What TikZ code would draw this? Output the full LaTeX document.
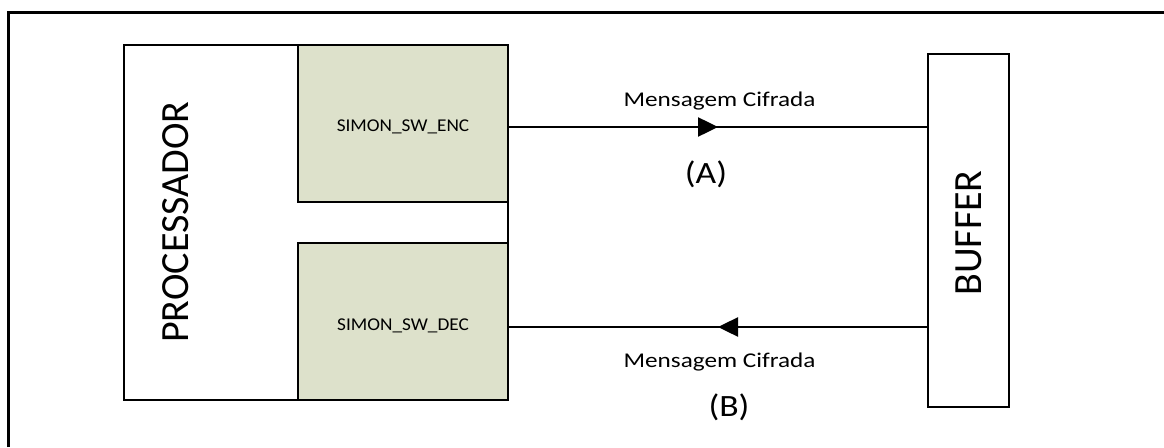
\documentclass[tikz,border=0pt]{standalone}
\usepackage{fontspec}
\setmainfont{Carlito}
\usetikzlibrary{arrows.meta,decorations.markings}
\definecolor{blockgreen}{RGB}{221,225,203}
\begin{document}
\begin{tikzpicture}[x=1pt,y=-1pt,
  box/.style={draw=black,line width=2.8pt,rectangle,inner sep=0pt},
  unit/.style={box,fill=blockgreen,minimum width=210pt,minimum height=157pt},
  unittext/.style={anchor=base,font=\fontsize{18}{22}\selectfont,xscale=1.07},
  bigtext/.style={font=\fontsize{40}{48}\selectfont,rotate=90},
  msg/.style={anchor=base,font=\fontsize{21}{25}\selectfont,xscale=1.2},
  tag/.style={anchor=base,font=\fontsize{31}{36}\selectfont,xscale=1.15},
  flow/.style={line width=2.5pt,postaction={decorate},
    decoration={markings,mark=at position 0.5 with {\arrow{Triangle[length=20pt,width=19pt]}}}}]
  \useasboundingbox (0,0) rectangle (1164,447);
  % outer frame (only top and left edges fall inside the page)
  \coordinate (fbl) at (8,447);
  \coordinate (ftl) at (8,12);
  \coordinate (ftr) at (1164,12);
  \draw[line width=3pt] (fbl) -- (ftl) -- (ftr);
  % processor with its two software units
  \node[box,minimum width=384pt,minimum height=355pt] (proc) at (316,222.5) {};
  \node[bigtext] (proclabel) at (176,222) {PROCESSADOR};
  \node[unit] (enc) at (403,123.5) {};
  \node[unittext] (enctext) at (403,131) {SIMON\_SW\_ENC};
  \node[unit] (dec) at (403,321.5) {};
  \node[unittext] (dectext) at (403,330) {SIMON\_SW\_DEC};
  % buffer
  \node[box,minimum width=81pt,minimum height=353pt] (buf) at (968.5,230.5) {};
  \node[bigtext] (buflabel) at (969,233) {BUFFER};
  % links
  \coordinate (encout) at (508,127);
  \coordinate (bufinA) at (928,127);
  \coordinate (bufoutB) at (928,327);
  \coordinate (decin) at (508,327);
  \draw[flow] (encout) -- (bufinA);
  \draw[flow] (bufoutB) -- (decin);
  \node[msg] (msgA) at (719.5,106) {Mensagem Cifrada};
  \node[tag] (tagA) at (706,183) {(A)};
  \node[msg] (msgB) at (719.5,367) {Mensagem Cifrada};
  \node[tag] (tagB) at (729,416) {(B)};
\end{tikzpicture}
\end{document}
